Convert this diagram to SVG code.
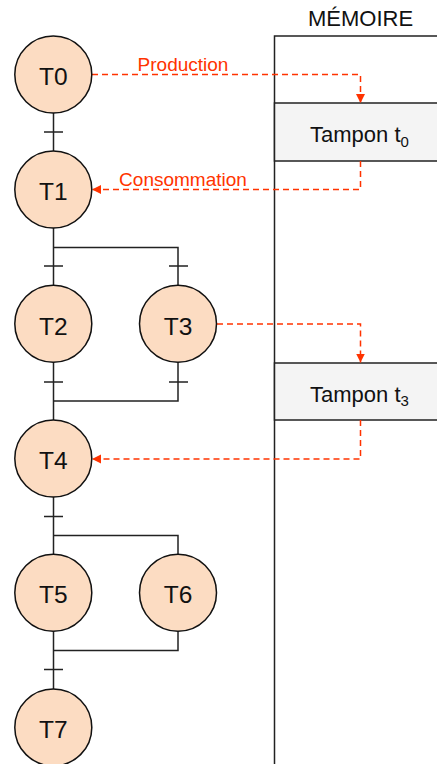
<svg xmlns="http://www.w3.org/2000/svg" width="437" height="764" viewBox="0 0 437 764">
<defs>
<marker id="ah" markerUnits="userSpaceOnUse" markerWidth="10" markerHeight="10" refX="9" refY="5" orient="auto"><path d="M0 0.500L9 5L0 9.500Z" fill="#ff3300"/></marker>
</defs>
<style>
text{font-family:"Liberation Sans",Arial,sans-serif;fill:#111}
.t{font-size:24.500px;text-anchor:middle}
.b{font-size:22px}
.s{font-size:15px}
.l{font-size:19px;fill:#ff3300;text-anchor:middle}
circle{fill:#fcdcc2;stroke:#111;stroke-width:1.5}
.k{fill:none;stroke:#222;stroke-width:1.5}
.r{fill:none;stroke:#ff3300;stroke-width:1.5;stroke-dasharray:6 4}
rect{fill:#f4f4f4;stroke:#222;stroke-width:1.5}
</style>
<g id="memoire">
<path class="k" d="M274.500 764V36H437"/>
<text class="b" x="360.500" y="25.500" text-anchor="middle">MÉMOIRE</text>
</g>
<g id="connectors">
<path class="k" d="M53.500 113V151M44 132H63"/>
<path class="k" d="M53.500 228V286M53.500 247.500H178V286M44 266H63M169 266H188"/>
<path class="k" d="M53.500 362V421M53.500 401H178V362M44 382H63M169 382H188"/>
<path class="k" d="M53.500 497V555M44 516.500H63M53.500 535.500H178V555"/>
<path class="k" d="M53.500 631V690M53.500 650.500H178V631M44 669.500H63"/>
</g>
<g id="tampon0"><rect x="274.500" y="103" width="170" height="58"/>
<text class="b" x="310" y="141.500">Tampon t<tspan class="s" dy="5">0</tspan></text></g>
<g id="tampon3"><rect x="274.500" y="363" width="170" height="57"/>
<text class="b" x="310" y="401.500">Tampon t<tspan class="s" dy="4">3</tspan></text></g>
<g id="flows">
<path class="r" d="M92 74.500H360.500V103" marker-end="url(#ah)"/>
<path class="r" d="M360.500 161V189.500H92" marker-end="url(#ah)"/>
<path class="r" d="M217 324H360.500V362.500" marker-end="url(#ah)"/>
<path class="r" d="M360.500 420V459H92" marker-end="url(#ah)"/>
<text class="l" x="183" y="71">Production</text>
<text class="l" x="183" y="186">Consommation</text>
</g>
<g id="T0"><circle cx="53.300" cy="74.500" r="38.500"/><text class="t" x="53.300" y="85">T0</text></g>
<g id="T1"><circle cx="53.300" cy="189.500" r="38.500"/><text class="t" x="53.300" y="200">T1</text></g>
<g id="T2"><circle cx="53.300" cy="323.800" r="38.500"/><text class="t" x="53.300" y="335">T2</text></g>
<g id="T3"><circle cx="178" cy="323.800" r="38.500"/><text class="t" x="178" y="335">T3</text></g>
<g id="T4"><circle cx="53.300" cy="458.500" r="38.500"/><text class="t" x="53.300" y="469">T4</text></g>
<g id="T5"><circle cx="53.300" cy="592.800" r="38.500"/><text class="t" x="53.300" y="603">T5</text></g>
<g id="T6"><circle cx="178" cy="592.800" r="38.500"/><text class="t" x="178" y="603">T6</text></g>
<g id="T7"><circle cx="53.300" cy="727.400" r="38.500"/><text class="t" x="53.300" y="738">T7</text></g>
</svg>
